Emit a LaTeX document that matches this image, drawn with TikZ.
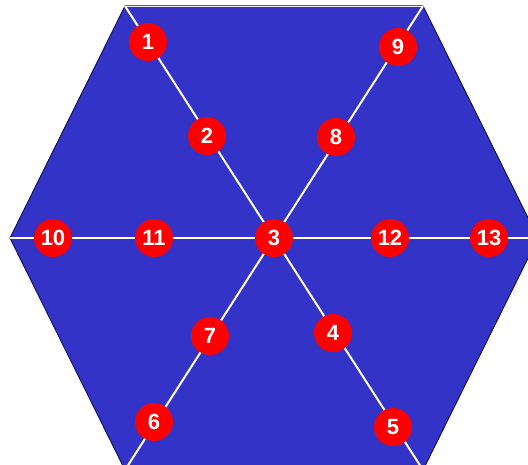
\documentclass[tikz,border=0pt]{standalone}
\usepackage{fontspec}
\setmainfont{Liberation Sans}
\newcommand\numfont{\fontsize{22pt}{24pt}\selectfont\bfseries}
\begin{document}
\begin{tikzpicture}[x=1pt,y=-1pt,
  dot/.style={circle,fill=red,inner sep=0pt,minimum size=38pt,text=white,font=\numfont},
  spoke/.style={draw=white,line width=2pt}]
\useasboundingbox (0,0) rectangle (528,465);
\clip (0,0) rectangle (528,465);
\definecolor{hexblue}{RGB}{51,51,200}
\definecolor{hexedge}{RGB}{20,20,90}
\coordinate (vtl) at (125,6);
\coordinate (vtr) at (423,6);
\coordinate (vr) at (538,238);
\coordinate (vbr) at (423,470);
\coordinate (vbl) at (125,470);
\coordinate (vl) at (10,238);
\coordinate (c) at (274,238);
\fill[hexblue,draw=hexedge,line width=1pt] (vtl) -- (vtr) -- (vr) -- (vbr) -- (vbl) -- (vl) -- cycle;
\draw[white!85!gray,line width=0.8pt] (vtl) -- (vtr);
\draw[spoke] (c) -- (vtl);
\draw[spoke] (c) -- (vtr);
\draw[spoke] (c) -- (vr);
\draw[spoke] (c) -- (vbr);
\draw[spoke] (c) -- (vbl);
\draw[spoke] (c) -- (vl);
\node[dot] (n1) at (148,42) {1};
\node[dot] (n2) at (207,136) {2};
\node[dot] (n3) at (274,238) {3};
\node[dot] (n4) at (333,333) {4};
\node[dot] (n5) at (393,427) {5};
\node[dot] (n6) at (154,422) {6};
\node[dot] (n7) at (210,336) {7};
\node[dot] (n8) at (336,137) {8};
\node[dot] (n9) at (398,47) {9};
\node[dot] (n10) at (53,238) {10};
\node[dot] (n11) at (154,238) {11};
\node[dot] (n12) at (390,238) {12};
\node[dot] (n13) at (489,238) {13};
\end{tikzpicture}
\end{document}
